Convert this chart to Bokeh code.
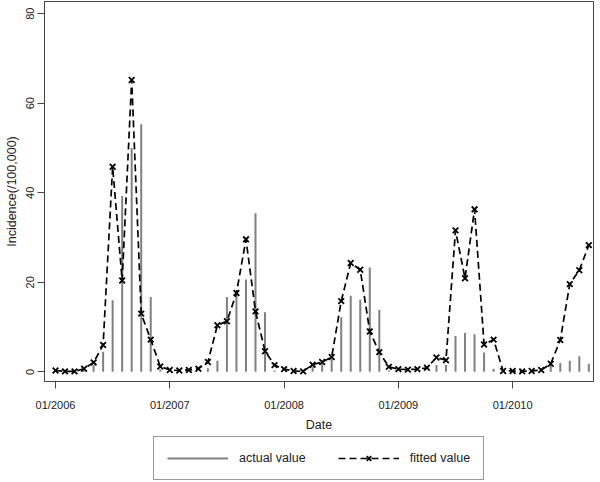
from bokeh.plotting import figure
from bokeh.layouts import column
from bokeh.models import Range1d, FixedTicker, Legend, LegendItem
from bokeh.embed import file_html
from bokeh.resources import INLINE

# Monthly series, 01/2006 .. 09/2010 (month index 0..56)
month_index = list(range(57))
actual_value = [0, 0, 0, 0.3, 1.5, 4.5, 16.0, 39.3, 50.0, 55.3, 16.7, 0.5,
                0, 0, 0, 0, 0.8, 2.5, 16.7, 17.5, 20.6, 35.4, 13.3, 0.3,
                0, 0, 0, 1.1, 1.8, 2.9, 12.2, 17.0, 16.1, 23.3, 13.8, 0.3,
                0, 0, 0, 0, 1.5, 1.6, 8.0, 8.7, 8.4, 4.3, 0.7, 0,
                0, 0, 0, 0, 1.5, 2.0, 2.5, 3.5, 1.8]
fitted_value = [0.3, 0.1, 0.1, 0.7, 2.1, 6.0, 45.8, 20.4, 65.2, 13.0, 7.2, 1.2,
                0.4, 0.3, 0.4, 0.7, 2.2, 10.4, 11.3, 17.6, 29.6, 13.5, 4.6, 1.5,
                0.6, 0.2, 0.1, 1.6, 2.2, 3.3, 15.8, 24.3, 22.8, 9.0, 4.4, 1.1,
                0.6, 0.5, 0.6, 0.9, 3.2, 2.6, 31.6, 20.9, 36.3, 6.1, 7.2, 0.2,
                0.2, 0.1, 0.2, 0.4, 1.8, 7.1, 19.6, 22.7, 28.3]
x_tick_positions = [0, 12, 24, 36, 48]
x_tick_labels = ["01/2006", "01/2007", "01/2008", "01/2009", "01/2010"]
y_ticks = [0, 20, 40, 60, 80]

FONT = "Liberation Sans"
AXC = "#444444"
BAR_C = "#808080"
DASH = "7 4"


def add_series(fig):
    s = fig.segment(x0=month_index, y0=[0] * len(month_index), x1=month_index,
                    y1=actual_value, line_color=BAR_C, line_width=2)
    l = fig.line(month_index, fitted_value, line_color="black",
                 line_width=1.7, line_dash=DASH)
    m = fig.scatter(month_index, fitted_value, marker="x", size=8,
                    line_color="black", line_width=1.8)
    return s, l, m


p = figure(width=600, height=434, output_backend="svg", toolbar_location=None,
           x_range=Range1d(-1.155, 56.49), y_range=Range1d(-2.16, 82.73),
           min_border_left=44, min_border_right=7, min_border_top=1,
           min_border_bottom=51)
p.background_fill_color = "white"
p.border_fill_color = "white"
p.outline_line_color = AXC
p.outline_line_width = 1
p.xgrid.visible = False
p.ygrid.visible = False
add_series(p)

xa = p.xaxis[0]
xa.ticker = FixedTicker(ticks=x_tick_positions)
xa.major_label_overrides = {t: l for t, l in zip(x_tick_positions, x_tick_labels)}
xa.axis_label = "Date"
ya = p.yaxis[0]
ya.ticker = FixedTicker(ticks=y_ticks)
ya.axis_label = "Incidence(/100,000)"
ya.major_label_orientation = "parallel"

for ax in (xa, ya):
    ax.axis_line_color = AXC
    ax.major_tick_line_color = AXC
    ax.major_tick_out = 7
    ax.major_tick_in = 0
    ax.minor_tick_line_color = None
    ax.major_label_text_font = FONT
    ax.major_label_text_font_size = "11px"
    ax.major_label_text_color = "#222222"
    ax.axis_label_text_font = FONT
    ax.axis_label_text_font_size = "12.5px"
    ax.axis_label_text_font_style = "normal"
    ax.axis_label_text_color = "#222222"
xa.major_label_standoff = 10
xa.axis_label_standoff = 4
ya.major_label_standoff = 3
ya.axis_label_standoff = 5

# Legend panel below the chart (series drawn out of view, only the key shows)
lg = figure(width=600, height=48, output_backend="svg", toolbar_location=None,
            x_range=Range1d(1000, 1001), y_range=Range1d(1000, 1001),
            min_border_left=0, min_border_right=0, min_border_top=0,
            min_border_bottom=0)
lg.axis.visible = False
lg.grid.visible = False
lg.outline_line_color = None
lg.background_fill_color = "white"
lg.border_fill_color = "white"
lseg, lln, lsc = add_series(lg)
legend = Legend(items=[LegendItem(label="actual value", renderers=[lseg]),
                       LegendItem(label="fitted value", renderers=[lln, lsc])],
                orientation="horizontal", location=(109, 2),
                glyph_width=61, glyph_height=16, label_height=16,
                label_standoff=11, spacing=32, padding=13, margin=0,
                border_line_color="#333333", border_line_width=1,
                label_text_font=FONT, label_text_font_size="12.5px",
                label_text_color="#222222", background_fill_color="white")
lg.add_layout(legend)

open("out.html", "w").write(file_html(column(p, lg), INLINE))
